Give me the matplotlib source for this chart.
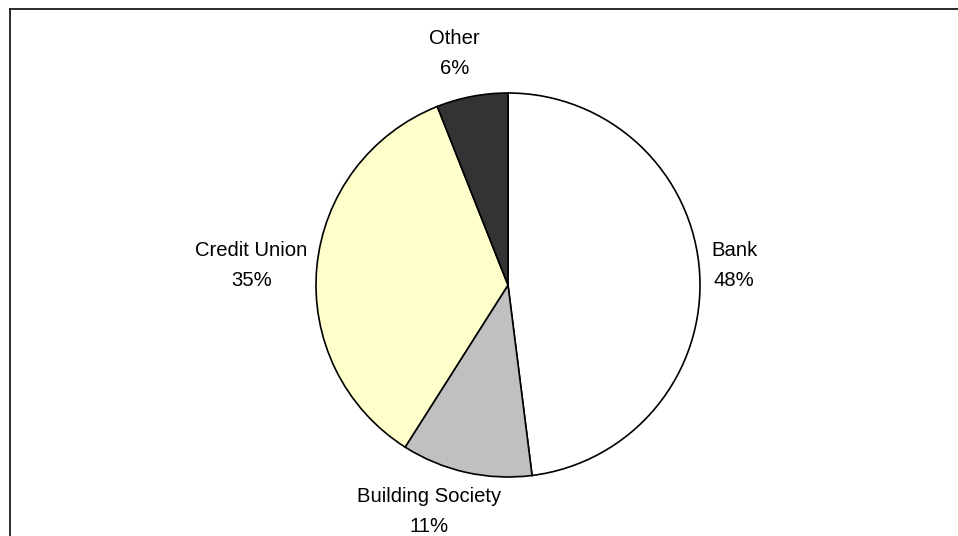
import matplotlib

matplotlib.use("Agg")
import matplotlib.pyplot as plt
from matplotlib.lines import Line2D

# Share of accounts by institution type, clockwise from 12 o'clock
categories = ["Bank", "Building Society", "Credit Union", "Other"]
shares = [48, 11, 35, 6]
colors = ["#FFFFFF", "#C0C0C0", "#FFFFCC", "#333333"]

plt.rcParams["font.family"] = ["Liberation Sans", "DejaVu Sans"]

W, H, DPI = 958, 536, 100
cx, cy, R = 508, 285, 192  # pie centre and radius in pixels

fig = plt.figure(figsize=(W / DPI, H / DPI), dpi=DPI)
fig.patch.set_facecolor("white")

ax = fig.add_axes([(cx - R) / W, (H - cy - R) / H, 2 * R / W, 2 * R / H])
ax.pie(
    shares,
    colors=colors,
    startangle=90,
    counterclock=False,
    radius=1.0,
    wedgeprops=dict(edgecolor="black", linewidth=1.2),
)
ax.set_xlim(-1, 1)
ax.set_ylim(-1, 1)
ax.set_aspect("equal")
ax.axis("off")

# label anchors (in pie radii from the centre) and alignment, Excel-style placement
label_pos = {
    "Bank": (1.057, -0.005, "left"),
    "Building Society": (-0.411, -1.285, "center"),
    "Credit Union": (-1.336, -0.005, "center"),
    "Other": (-0.279, 1.1, "center"),
}
for name, val in zip(categories, shares):
    x, y, ha = label_pos[name]
    ax.text(x, y, f"{name}\n{val}%", ha=ha, va="baseline", multialignment="center",
            fontsize=14.6, color="black", linespacing=1.7, clip_on=False)

# chart-area border: only the top and left edges fall inside the image
fig.add_artist(Line2D([10 / W, 1.0], [1 - 9 / H, 1 - 9 / H], color="#1a1a1a", linewidth=1.3,
                      transform=fig.transFigure))
fig.add_artist(Line2D([10 / W, 10 / W], [0.0, 1 - 9 / H], color="#1a1a1a", linewidth=1.3,
                      transform=fig.transFigure))

fig.savefig("out.png", dpi=DPI, facecolor="white")
